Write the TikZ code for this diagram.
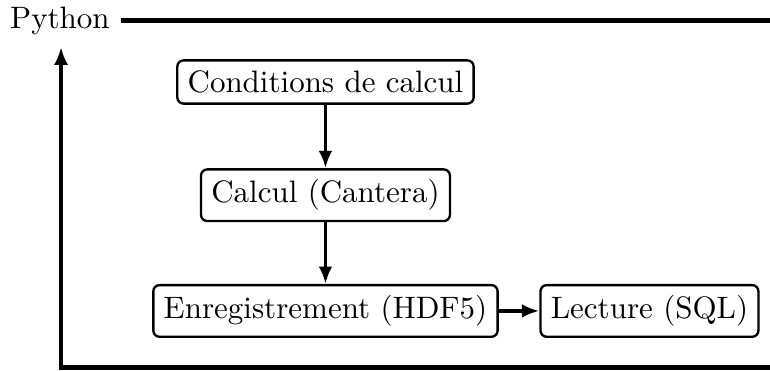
\documentclass[tikz,border=0pt]{standalone}
\usepackage{amsmath,amssymb}
\usetikzlibrary{arrows.meta,positioning}

\begin{document}
\begin{tikzpicture}[
		box/.style={draw,line width=.75pt,rounded corners=2pt},
		flow/.style={line width=1.1pt,-{Latex[length=5.6pt,width=4.4pt]}},
		bus/.style={line width=1.4pt}]
		\useasboundingbox (0,0) rectangle (8.732,4.207);
		\path
		(0.68,3.974) node (py) {Python}
		(8.732,3.968) coordinate (T)
		(8.732,0.04) coordinate (B)
		(0.692,0.04) coordinate (C)
		(0.692,3.674) coordinate (P);
		\node[box] (cond) at (3.691,3.277) {Conditions de calcul};
		\node[box,below=.72cm of cond] (calc) {Calcul (Cantera)};
		\node[box,below=.7cm of calc] (enr) {Enregistrement (HDF5)};
		\node[box,right=.46cm of enr] (lect) {Lecture (SQL)};
		\draw[bus] (py.east) -- (py.east-|T);
		\draw[bus,-{Latex[length=5.8pt,width=4.6pt]}] (B)--(C)--(P);
		\draw[flow] (cond)--(calc);
		\draw[flow] (calc)--(enr);
		\draw[flow] (enr)--(lect);
	\end{tikzpicture}
\end{document}
